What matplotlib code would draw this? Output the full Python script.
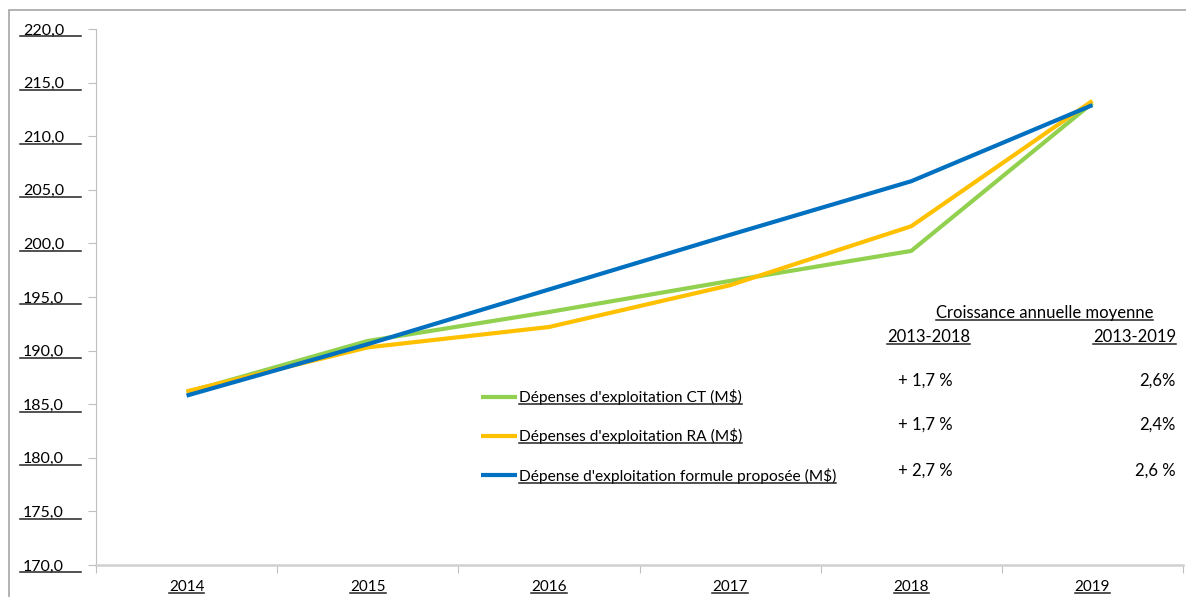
import matplotlib.pyplot as plt
from matplotlib.lines import Line2D
from matplotlib.patches import Rectangle

plt.rcParams['font.family'] = ['Lato', 'DejaVu Sans']

# données
annees = ['2014', '2015', '2016', '2017', '2018', '2019']
depenses_ct = [186.1, 190.9, 193.6, 196.5, 199.3, 213.1]
depenses_ra = [186.2, 190.3, 192.2, 196.1, 201.6, 213.3]
depenses_formule = [185.8, 190.6, 195.7, 200.8, 205.8, 212.9]
noms_series = ["Dépenses d'exploitation CT (M$)",
               "Dépenses d'exploitation RA (M$)",
               "Dépense d'exploitation formule proposée (M$)"]
couleurs = ['#92D050', '#FFC000', '#0070C0']
y_ticks = [170, 175, 180, 185, 190, 195, 200, 205, 210, 215, 220]

titre_tableau = 'Croissance annuelle moyenne'
periodes = ['2013-2018', '2013-2019']
croissance_2018 = ['+ 1,7 %', '+ 1,7 %', '+ 2,7 %']
croissance_2019 = ['2,6%', '2,4%', '2,6 %']

W, H = 1186, 597
fig = plt.figure(figsize=(W / 100, H / 100), dpi=100)
ax = fig.add_axes([96 / W, 1 - 565 / H, (1183 - 96) / W, (565 - 29) / H])

x = list(range(len(annees)))
for vals, nom, c in zip([depenses_ct, depenses_ra, depenses_formule], noms_series, couleurs):
    ax.plot(x, vals, color=c, lw=3, label=nom, solid_capstyle='butt')

ax.set_xlim(-0.5, len(annees) - 0.5)
ax.set_ylim(170, 220)
ax.set_yticks(y_ticks)
ax.set_yticklabels(['{:.1f}'.format(v).replace('.', ',') for v in y_ticks], fontsize=11.5)
ax.tick_params(axis='y', length=6, color='#bfbfbf', pad=17)

ax.set_xticks([i - 0.5 for i in range(len(annees) + 1)])
ax.set_xticklabels([])
ax.tick_params(axis='x', which='major', length=6, color='#bfbfbf')
ax.set_xticks(x, minor=True)
ax.set_xticklabels(annees, minor=True, fontsize=11)
ax.tick_params(axis='x', which='minor', length=0, pad=11)

for s in ['top', 'right']:
    ax.spines[s].set_visible(False)
ax.spines['left'].set_color('#bfbfbf')
ax.spines['bottom'].set_color('#d0d0d0')
ax.spines['bottom'].set_linewidth(1.8)

# cadre du graphique
fig.add_artist(Rectangle((9 / W, -0.1), 1.2, 1.1 - 10 / H, transform=fig.transFigure,
                         fill=False, edgecolor='#a6a6a6', lw=1.2))

leg = ax.legend(loc='upper left', bbox_to_anchor=(481 / W, 1 - 389 / H),
                bbox_transform=fig.transFigure, frameon=False, fontsize=11.2,
                handlelength=2.3, handletextpad=0.15, labelspacing=1.5,
                borderpad=0, borderaxespad=0)

# tableau de croissance
tkw = dict(fontsize=12, transform=fig.transFigure, va='baseline')
textes = []
textes.append(fig.text(1153 / W, 1 - 318 / H, titre_tableau, ha='right', **tkw))
textes.append(fig.text(887 / W, 1 - 342 / H, periodes[0], ha='left', **tkw))
textes.append(fig.text(1176 / W, 1 - 342 / H, periodes[1], ha='right', **tkw))
for i, y in enumerate([386, 430, 476]):
    fig.text(953 / W, 1 - y / H, croissance_2018[i], ha='right', **tkw)
    fig.text(1176 / W, 1 - y / H, croissance_2019[i], ha='right', **tkw)

# soulignements
fig.canvas.draw()
r = fig.canvas.get_renderer()


def souligner(t, x0=None, x1=None):
    bb = t.get_window_extent(r)
    y = bb.y0 + 1
    a = bb.x0 if x0 is None else x0
    b = bb.x1 if x1 is None else x1
    fig.add_artist(Line2D([a / W, b / W], [y / H, y / H], transform=fig.transFigure,
                          color='#222222', lw=1.1))


for t in ax.get_yticklabels():
    souligner(t, 20, 81)
for t in ax.get_xticklabels(minor=True):
    souligner(t)
for t in leg.get_texts():
    souligner(t)
for t in textes:
    souligner(t)

fig.savefig('out.png', dpi=100)
